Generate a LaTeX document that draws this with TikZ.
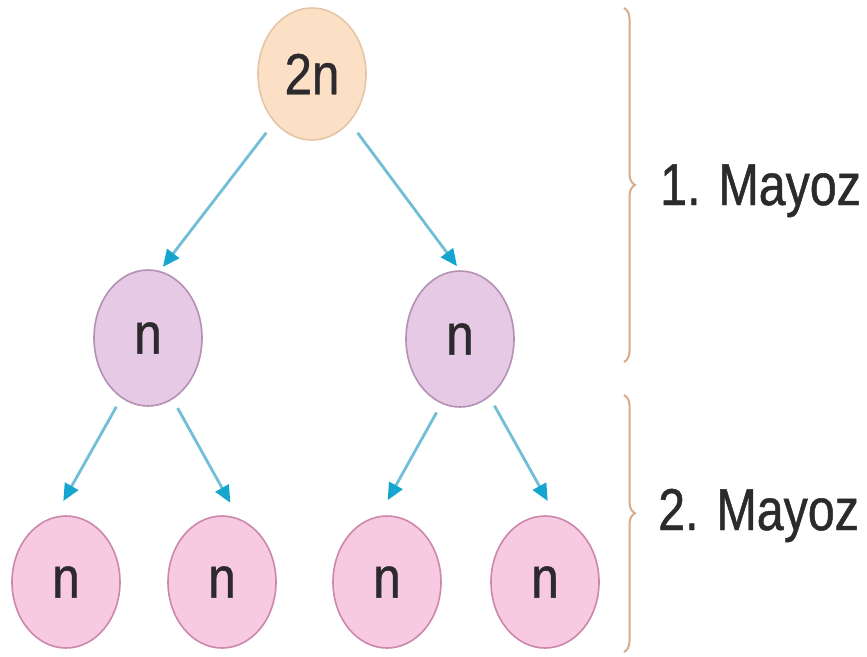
\documentclass[tikz,border=0pt]{standalone}
\usepackage{fontspec}
\setmainfont{Liberation Sans}
\newfontfamily\cellfont[FakeStretch=0.85,FakeBold=0.8]{Liberation Sans}
\newfontfamily\labfont[FakeStretch=0.82,FakeBold=0.8]{Liberation Sans}
\usetikzlibrary{shapes.geometric,arrows.meta,decorations.pathreplacing}
\definecolor{rootfill}{RGB}{251,224,198}
\definecolor{rootdraw}{RGB}{232,196,166}
\definecolor{midfill}{RGB}{230,201,228}
\definecolor{middraw}{RGB}{180,145,180}
\definecolor{leaffill}{RGB}{247,202,226}
\definecolor{leafdraw}{RGB}{205,135,172}
\definecolor{arrline}{RGB}{112,190,215}
\definecolor{arrhead}{RGB}{22,165,206}
\definecolor{bracecol}{RGB}{214,172,140}
\definecolor{txt}{RGB}{45,42,46}
\tikzset{
  cell/.style={ellipse, inner sep=0pt, line width=1.6pt, minimum width=108pt,
    font=\cellfont\fontsize{58}{60}\selectfont, text=txt},
  rootcell/.style={cell, fill=rootfill, draw=rootdraw, minimum height=132pt},
  midcell/.style={cell, fill=midfill, draw=middraw, minimum height=136pt},
  leafcell/.style={cell, fill=leaffill, draw=leafdraw, minimum height=132pt},
  arr/.style={draw=arrline, line width=2.8pt,
    -{Triangle[length=17pt,width=15pt,color=arrhead]}},
  bracestyle/.style={draw=bracecol, line width=2pt,
    decorate, decoration={brace, amplitude=11pt}},
  lab/.style={anchor=base west, inner sep=0pt, text=txt,
    font=\labfont\fontsize{59}{60}\selectfont}
}
\begin{document}
\begin{tikzpicture}[x=1pt,y=-1pt]
\useasboundingbox[fill=white] (0,0) rectangle (867,656);
\node[rootcell] (root) at (312,74) {2n};
\node[midcell] (L) at (148,338) {n};
\node[midcell] (R) at (460,339) {n};
\node[leafcell] (c1) at (66,582) {n};
\node[leafcell] (c2) at (222,582) {n};
\node[leafcell] (c3) at (387,582) {n};
\node[leafcell] (c4) at (545,582) {n};
\draw[arr, shorten <=13pt, shorten >=5pt] (root.232) -- (L.80);
\draw[arr, shorten <=13pt, shorten >=5pt] (root.308) -- (R.90);
\draw[arr, shorten <=10pt, shorten >=18pt] (L.246) -- (c1.100);
\draw[arr, shorten <=10pt, shorten >=18pt] (L.292) -- (c2.75);
\draw[arr, shorten <=10pt, shorten >=18pt] (R.254) -- (c3.97);
\draw[arr, shorten <=10pt, shorten >=18pt] (R.297) -- (c4.80);
\coordinate (b1top) at (624,8);
\coordinate (b1bot) at (624,362);
\coordinate (b2top) at (624,395);
\coordinate (b2bot) at (624,652);
\draw[bracestyle, decoration={aspect=0.5}] (b1top) -- (b1bot);
\draw[bracestyle, decoration={aspect=0.46}] (b2top) -- (b2bot);
\node[lab] (m1) at (660,205) {1. Mayoz};
\node[lab] (m2) at (658,530) {2. Mayoz};
\end{tikzpicture}
\end{document}
